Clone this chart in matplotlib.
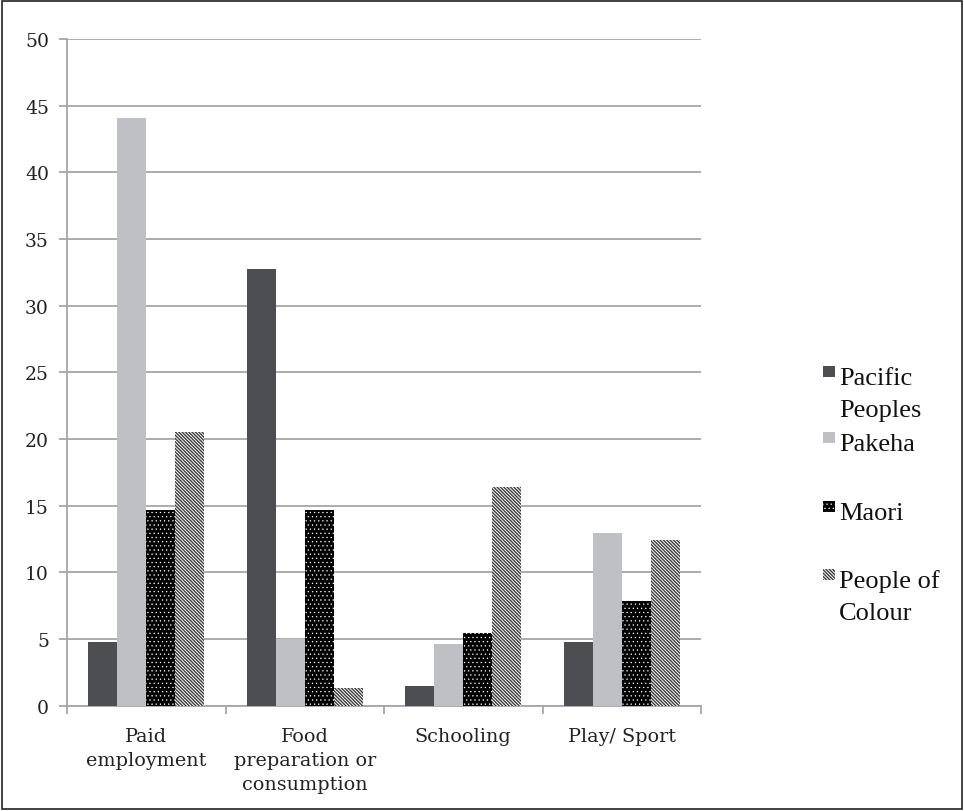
import matplotlib
matplotlib.use("Agg")
import matplotlib.pyplot as plt
from matplotlib import font_manager
from matplotlib.patches import Rectangle
import numpy as np

categories = ["Paid\nemployment", "Food\npreparation or\nconsumption", "Schooling", "Play/ Sport"]
series_names = ["Pacific\nPeoples", "Pakeha", "Maori", "People of\nColour"]
pacific = [4.75, 32.75, 1.5, 4.75]
pakeha = [44.1, 5.0, 4.65, 12.95]
maori = [14.7, 14.7, 5.45, 7.85]
poc = [20.55, 1.35, 16.4, 12.4]
yticks = [0, 5, 10, 15, 20, 25, 30, 35, 40, 45, 50]

# buscar una serif tipo Times para la leyenda
fuente_leyenda = font_manager.FontProperties(family='DejaVu Serif', size=19)
for ruta in font_manager.findSystemFonts():
    nombre = ruta.split('/')[-1].lower()
    if nombre.startswith('liberationserif-regular'):
        fuente_leyenda = font_manager.FontProperties(fname=ruta, size=19)
        break

fig = plt.figure(figsize=(9.64, 8.12), dpi=100)
ax = fig.add_axes([67 / 964, 1 - 706.7 / 812, (701 - 67) / 964, (706.7 - 40) / 812])

# estilos por serie (hatch, grosor de hatch)
estilos = [
    dict(color='#4d4e52', hatch=None, edgecolor='#4d4e52', hlw=1.0),
    dict(color='#bfc0c3', hatch=None, edgecolor='#bfc0c3', hlw=1.0),
    dict(color='black', hatch='....', edgecolor='white', hlw=0.4),
    dict(color='white', hatch='\\' * 10, edgecolor='#3c3c3c', hlw=1.0),
]
datos = [pacific, pakeha, maori, poc]

x = np.arange(len(categories))
ancho = 0.1825
for i, (vals, est) in enumerate(zip(datos, estilos)):
    offs = (i - 1.5) * ancho
    with plt.rc_context({'hatch.linewidth': est['hlw']}):
        ax.bar(x + offs, vals, width=ancho, color=est['color'], edgecolor=est['edgecolor'],
               hatch=est['hatch'], linewidth=0, zorder=3)

ax.set_xlim(-0.5, len(categories) - 0.5)
ax.set_ylim(0, 50)
ax.set_yticks(yticks)
ax.set_yticklabels([str(v) for v in yticks], fontsize=13.5, family='DejaVu Serif', color='#222222')
ax.yaxis.grid(True, color='#a5a6aa', linewidth=1.3, zorder=0)
ax.tick_params(axis='y', length=6, width=1.3, color='#a5a6aa', pad=7)

# ticks del eje x en los limites de las categorias
ax.set_xticks(np.arange(-0.5, len(categories), 1.0))
ax.set_xticklabels([])
ax.set_xticks(x, minor=True)
ax.set_xticklabels(categories, minor=True, fontsize=13.8, family='DejaVu Serif',
                   color='#222222', linespacing=1.45)
ax.tick_params(axis='x', which='major', length=6, width=1.3, color='#a5a6aa')
ax.tick_params(axis='x', which='minor', length=0, pad=15)

for s in ['top', 'right']:
    ax.spines[s].set_visible(False)
for s in ['left', 'bottom']:
    ax.spines[s].set_color('#a5a6aa')
    ax.spines[s].set_linewidth(1.3)

# leyenda manual
W, H = 964.0, 812.0
marcas_y = [367, 433, 502, 570]
base_y = [385, 451.5, 520, 588]
for nombre, est, my, by in zip(series_names, estilos, marcas_y, base_y):
    with plt.rc_context({'hatch.linewidth': est['hlw']}):
        fig.patches.append(Rectangle((823 / W, 1 - (my + 11) / H), 12 / W, 11 / H,
                                     transform=fig.transFigure, facecolor=est['color'],
                                     edgecolor=est['edgecolor'], hatch=est['hatch'],
                                     linewidth=0))
    for k, linea in enumerate(nombre.split("\n")):
        fig.text(839 / W, 1 - (by + k * 31.7) / H, linea, fontproperties=fuente_leyenda,
                 va='baseline', ha='left', color='#111111')

# marco exterior
fig.patches.append(Rectangle((2 / W, 2 / H), 960 / W, 808 / H, transform=fig.transFigure,
                             facecolor='none', edgecolor='#222222', linewidth=1.2))

fig.savefig("out.png", dpi=100)
